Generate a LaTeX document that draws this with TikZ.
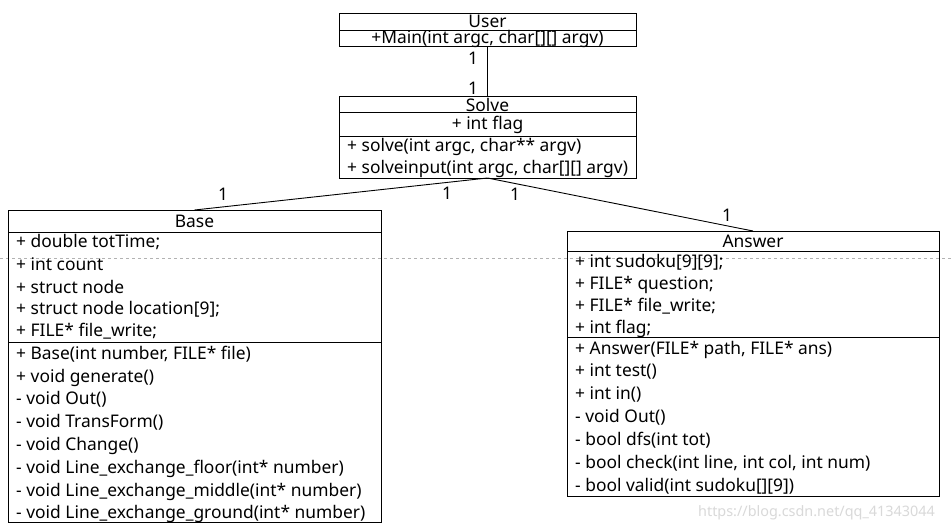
\documentclass[tikz,border=0pt]{standalone}
\usepackage{fontspec}
\setmainfont{Noto Sans}
\begin{document}
\begin{tikzpicture}[x=1pt,y=-1pt,
  box/.style={draw, line width=0.9pt, inner sep=0pt, outer sep=0pt, anchor=north west},
  sep/.style={line width=0.9pt},
  txt/.style={anchor=west, inner sep=0pt, font=\fontsize{17.4}{20}\selectfont},
  ctxt/.style={anchor=center, inner sep=0pt, font=\fontsize{17.4}{20}\selectfont},
  mult/.style={anchor=center, inner sep=0pt, font=\fontsize{17.4}{20}\selectfont},
  conn/.style={line width=0.9pt}]
\useasboundingbox (0,0) rectangle (952,531);
\fill[white] (0,0) rectangle (952,531);
% page artefact line
\draw[gray!60, dash pattern=on 3pt off 3pt, line width=0.6pt] (0,258) -- (952,258);
% User
\node[box, minimum width=297pt, minimum height=33pt] (user) at (339,13) {};
\draw[sep] (339,30) -- (636,30);
\node[ctxt] (userT) at (487.5,21.5) {User};
\node[ctxt] (userM) at (487.5,39) {+Main(int argc, char[][] argv)};
% Solve
\node[box, minimum width=297pt, minimum height=82pt] (solve) at (339,96) {};
\draw[sep] (339,112) -- (636,112);
\draw[sep] (339,136) -- (636,136);
\node[ctxt] (solveT) at (487.5,104.5) {Solve};
\node[ctxt] (solveA) at (487.5,124.5) {+ int flag};
\node[txt] (solveM1) at (347,146.5) {+ solve(int argc, char** argv)};
\node[txt] (solveM2) at (347,168.5) {+ solveinput(int argc, char[][] argv)};
% Base
\node[box, minimum width=373pt, minimum height=312pt] (base) at (8,210) {};
\draw[sep] (8,232) -- (381,232);
\draw[sep] (8,342) -- (381,342);
\node[ctxt] (baseT) at (194.5,221.5) {Base};
\node[txt] at (16,242.5) {+ double totTime;};
\node[txt] at (16,264.5) {+ int count};
\node[txt] at (16,286.5) {+ struct node};
\node[txt] at (16,309.5) {+ struct node location[9];};
\node[txt] at (16,331.5) {+ FILE* file\_write;};
\node[txt] at (16,354.5) {+ Base(int number, FILE* file)};
\node[txt] at (16,377.5) {+ void generate()};
\node[txt] at (16,399.5) {- void Out()};
\node[txt] at (16,422.5) {- void TransForm()};
\node[txt] at (16,445.5) {- void Change()};
\node[txt] at (16,468.5) {- void Line\_exchange\_floor(int* number)};
\node[txt] at (16,491.5) {- void Line\_exchange\_middle(int* number)};
\node[txt] at (16,513.5) {- void Line\_exchange\_ground(int* number)};
% Answer
\node[box, minimum width=372pt, minimum height=265pt] (answer) at (567,231) {};
\draw[sep] (567,251) -- (939,251);
\draw[sep] (567,337) -- (939,337);
\node[ctxt] (answerT) at (753,241.5) {Answer};
\node[txt] at (575,262.5) {+ int sudoku[9][9];};
\node[txt] at (575,284.5) {+ FILE* question;};
\node[txt] at (575,306.5) {+ FILE* file\_write;};
\node[txt] at (575,328.5) {+ int flag;};
\node[txt] at (575,349.5) {+ Answer(FILE* path, FILE* ans)};
\node[txt] at (575,371.5) {+ int test()};
\node[txt] at (575,394.5) {+ int in()};
\node[txt] at (575,417.5) {- void Out()};
\node[txt] at (575,440.5) {- bool dfs(int tot)};
\node[txt] at (575,463.5) {- bool check(int line, int col, int num)};
\node[txt] at (575,486.5) {- bool valid(int sudoku[][9])};
% connectors
\draw[conn] (user.south) -- (solve.north);
\draw[conn] (solve.south) -- (base.north);
\draw[conn] (solve.south) -- (answer.north);
% multiplicities
\node[mult] at (473,58) {1};
\node[mult] at (473,88) {1};
\node[mult] at (223,194) {1};
\node[mult] at (447,193) {1};
\node[mult] at (515,194) {1};
\node[mult] at (727,215) {1};
% watermark
\node[anchor=east, inner sep=0pt, text=gray!30, font=\fontsize{14.4}{16}\selectfont] (wm) at (935,513) {https://blog.csdn.net/qq\_41343044};
\end{tikzpicture}
\end{document}
